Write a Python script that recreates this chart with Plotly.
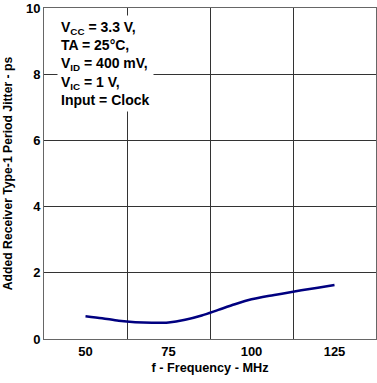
import plotly.graph_objects as go

freq_mhz = [50, 55, 60, 65, 70, 75, 80, 85, 90, 95, 100, 105, 110, 115, 120, 125]
jitter_ps = [0.69, 0.63, 0.55, 0.505, 0.49, 0.50, 0.58, 0.71, 0.88, 1.05, 1.20, 1.30, 1.38, 1.47, 1.55, 1.63]

x_ticks = [50, 75, 100, 125]
y_ticks = [0, 2, 4, 6, 8, 10]

fnt = "Liberation Sans, Arial, sans-serif"
fig = go.Figure()
fig.add_trace(go.Scatter(x=freq_mhz, y=jitter_ps, mode="lines",
                         line=dict(color="#000080", width=2.5, shape="spline", smoothing=0.8),
                         showlegend=False))

fig.update_layout(
    width=377, height=383,
    margin=dict(l=44, r=1, t=8, b=44),
    plot_bgcolor="white", paper_bgcolor="white",
    font=dict(family=fnt, size=12, color="black"),
    xaxis=dict(range=[37.5, 137.5], tickvals=x_ticks, ticks="", showgrid=False,
               showline=True, linecolor="#666", linewidth=1, mirror=True, automargin=False,
               tickfont=dict(size=13, family=fnt, weight="bold"),
               title=dict(text="<b>f - Frequency - MHz</b>", font=dict(size=12.7), standoff=5),
               minor=dict(tick0=62.5, dtick=25, showgrid=True, gridcolor="#333", gridwidth=1, ticks=""),
               zeroline=False, fixedrange=True),
    yaxis=dict(range=[0, 10], tickvals=y_ticks, ticks="", showgrid=True, gridcolor="#333", gridwidth=1,
               showline=True, linecolor="#666", linewidth=1, mirror=True, automargin=False,
               tickfont=dict(size=13, family=fnt, weight="bold"),
               title=dict(text="<b>Added Receiver Type-1 Period Jitter - ps</b>", font=dict(size=12.2), standoff=10),
               zeroline=False, fixedrange=True),
)

fig.add_annotation(
    xref="paper", yref="paper", x=0.04, y=0.978, xanchor="left", yanchor="top",
    align="left", showarrow=False, bgcolor="white", borderpad=3,
    font=dict(size=14, family=fnt, color="black"),
    text="<b>V<sub>CC</sub> = 3.3 V,<br>TA = 25°C,<br>V<sub>ID</sub> = 400 mV,<br>V<sub>IC</sub> = 1 V,<br>Input = Clock</b>",
)

fig.write_html("out.html", config={"displayModeBar": False},
               post_script="document.body.style.margin='0';document.body.style.overflow='hidden';")
